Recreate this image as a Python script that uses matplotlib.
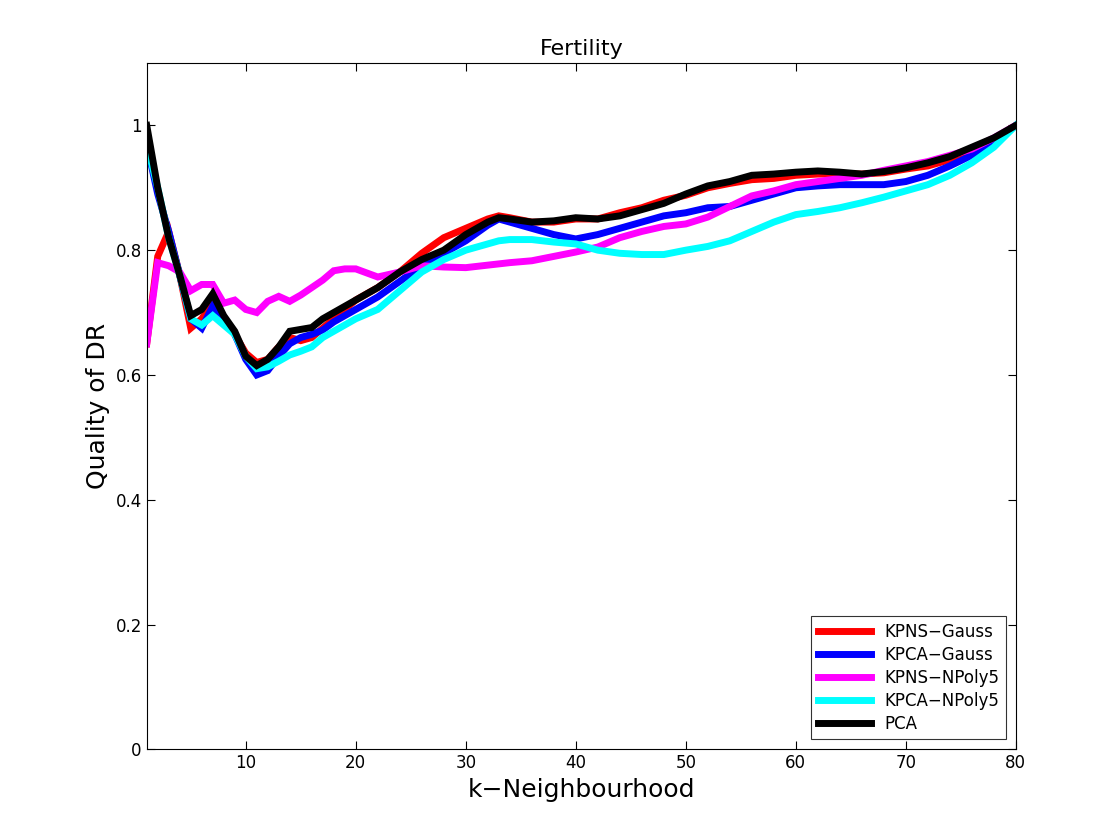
import matplotlib
matplotlib.use("Agg")
import matplotlib.pyplot as plt

k = [1,2,3,4,5,6,7,8,9,10,11,12,13,14,15,16,17,18,19,20,22,24,26,28,30,32,33,34,36,38,40,42,44,46,48,50,52,54,56,58,60,62,64,66,68,70,72,74,76,78,80]

kpns_gauss = [0.65,0.79,0.83,0.76,0.675,0.69,0.715,0.69,0.665,0.635,0.62,0.625,0.645,0.66,0.655,0.66,0.675,0.69,0.705,0.72,0.74,0.765,0.795,0.82,0.835,0.85,0.855,0.852,0.845,0.845,0.85,0.85,0.86,0.868,0.88,0.888,0.9,0.907,0.913,0.915,0.92,0.922,0.922,0.922,0.924,0.93,0.935,0.945,0.96,0.978,1.0]
kpca_gauss = [0.97,0.89,0.83,0.76,0.69,0.675,0.71,0.69,0.665,0.625,0.6,0.607,0.63,0.65,0.66,0.665,0.672,0.685,0.695,0.705,0.725,0.75,0.775,0.795,0.815,0.84,0.85,0.845,0.835,0.825,0.818,0.825,0.835,0.845,0.855,0.86,0.868,0.87,0.88,0.89,0.9,0.903,0.905,0.905,0.905,0.91,0.92,0.935,0.952,0.975,1.0]
kpns_npoly5 = [0.65,0.78,0.775,0.765,0.735,0.745,0.745,0.715,0.72,0.705,0.7,0.718,0.726,0.718,0.728,0.74,0.752,0.767,0.77,0.77,0.757,0.765,0.775,0.773,0.772,0.776,0.778,0.78,0.783,0.79,0.797,0.805,0.82,0.83,0.838,0.842,0.853,0.87,0.887,0.895,0.905,0.91,0.915,0.92,0.928,0.935,0.942,0.952,0.962,0.98,1.0]
kpca_npoly5 = [0.97,0.9,0.82,0.76,0.69,0.68,0.695,0.68,0.665,0.63,0.61,0.613,0.622,0.632,0.638,0.645,0.66,0.67,0.68,0.69,0.705,0.735,0.765,0.785,0.8,0.81,0.815,0.817,0.817,0.813,0.81,0.8,0.795,0.793,0.793,0.8,0.806,0.815,0.83,0.845,0.857,0.862,0.868,0.876,0.885,0.895,0.905,0.92,0.94,0.965,1.0]
pca = [1.0,0.9,0.82,0.76,0.695,0.705,0.73,0.695,0.67,0.63,0.615,0.625,0.645,0.67,0.673,0.676,0.69,0.70,0.71,0.72,0.74,0.765,0.785,0.80,0.825,0.845,0.852,0.85,0.845,0.847,0.852,0.85,0.855,0.865,0.875,0.89,0.903,0.91,0.92,0.922,0.925,0.927,0.925,0.922,0.926,0.932,0.94,0.95,0.965,0.98,1.0]

series = [("KPNS\u2212Gauss", kpns_gauss, "#ff0000"),
          ("KPCA\u2212Gauss", kpca_gauss, "#0000ff"),
          ("KPNS\u2212NPoly5", kpns_npoly5, "#ff00ff"),
          ("KPCA\u2212NPoly5", kpca_npoly5, "#00ffff"),
          ("PCA", pca, "#000000")]

fig = plt.figure(figsize=(11.2, 8.4), dpi=100)
ax = fig.add_axes([0.131, 0.108, 0.776, 0.817])
for name, vals, c in series:
    ax.plot(k, vals, color=c, lw=5, label=name, solid_joinstyle="miter")
ax.set_xlim(1, 80)
ax.set_ylim(0, 1.1)
ax.set_xticks([10,20,30,40,50,60,70,80])
ax.set_yticks([0,0.2,0.4,0.6,0.8,1])
ax.set_yticklabels(["0","0.2","0.4","0.6","0.8","1"])
ax.tick_params(direction="in", labelsize=12, top=True, right=True, length=6)
ax.set_xlabel("k\u2212Neighbourhood", fontsize=18)
ax.set_ylabel("Quality of DR", fontsize=18)
ax.set_title("Fertility", fontsize=16)
leg = ax.legend(loc="lower right", fontsize=12, fancybox=False, edgecolor="black",
                handlelength=3.2, borderaxespad=0.6, labelspacing=0.3)
leg.get_frame().set_linewidth(0.8)
fig.savefig("out.png", dpi=100)
